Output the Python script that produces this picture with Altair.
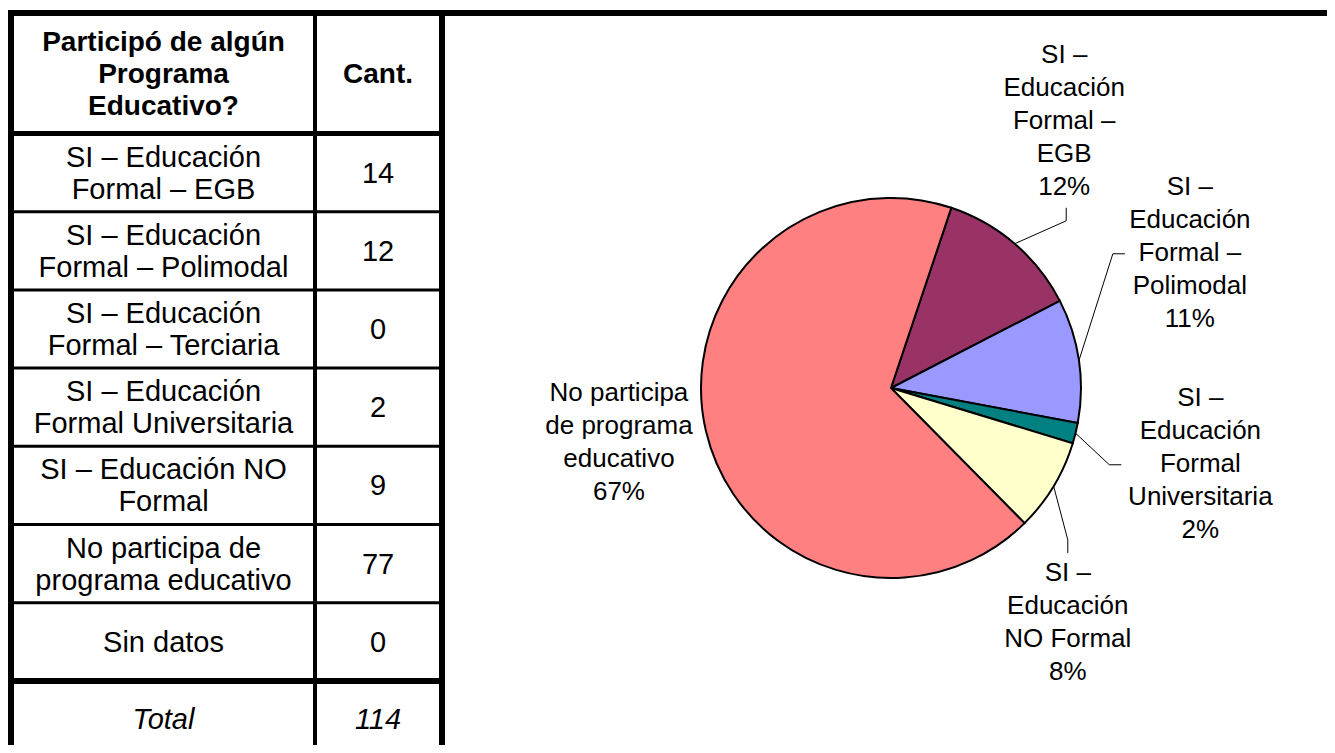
import math
import altair as alt
import pandas as pd

# ---------------- data ----------------
categorias = [
    "SI – Educación Formal – EGB",
    "SI – Educación Formal – Polimodal",
    "SI – Educación Formal – Terciaria",
    "SI – Educación Formal Universitaria",
    "SI – Educación NO Formal",
    "No participa de programa educativo",
    "Sin datos",
]
cantidades = [14, 12, 0, 2, 9, 77, 0]
total_label = "Total"
total_valor = 114

etiquetas_tabla = [
    "SI – Educación\nFormal – EGB",
    "SI – Educación\nFormal – Polimodal",
    "SI – Educación\nFormal – Terciaria",
    "SI – Educación\nFormal Universitaria",
    "SI – Educación NO\nFormal",
    "No participa de\nprograma educativo",
    "Sin datos",
]
encabezados = ["Participó de algún\nPrograma\nEducativo?", "Cant."]

etiquetas_torta = [
    "SI –\nEducación\nFormal –\nEGB",
    "SI –\nEducación\nFormal –\nPolimodal",
    "SI –\nEducación\nFormal –\nTerciaria",
    "SI –\nEducación\nFormal\nUniversitaria",
    "SI –\nEducación\nNO Formal",
    "No participa\nde programa\neducativo",
    "Sin datos",
]
porcentajes = ["12%", "11%", "0%", "2%", "8%", "67%", "0%"]

colores = ["#993366", "#9999FF", "#CCFFFF", "#008080", "#FFFFCC", "#FF8080", "#CCCCFF"]

# ---------------- layout (styling only) ----------------
W, H = 1319, 737
FONT = "Liberation Sans"

# table geometry (chart pixels)
TOP_Y = 5
FRAME_X = 2.5
DIV_X = 307
RIGHT_X = 434
HEADER_BOTTOM = 125.5
ROW_H = 78.2
C1, C2 = 155.5, 370
LH_TAB = 32

# pie geometry
PIE_CX, PIE_CY, PIE_R = 883, 380, 190
START = math.radians(18.5)
LH_PIE = 33
# label placement: (radius, angular shift in degrees, leader side, half width)
label_layout = {
    "SI – Educación Formal – EGB": (318, -7.6, "bottom", 0),
    "SI – Educación Formal – Polimodal": (328, -16.0, "left", 60),
    "SI – Educación Formal Universitaria": (318.5, 0.0, "left", 74),
    "SI – Educación NO Formal": (294, 21.9, "top", 0),
    "No participa de programa educativo": (277.5, 1.7, None, 0),
}


def first_line_y(text, cy, lh):
    """y of the first line so that a multi-line block is centred on cy."""
    n = text.count("\n") + 1
    return cy - (n - 1) * lh / 2


# ---------------- table ----------------
hl_rows = []
n_rows = len(categorias)
for k in range(n_rows + 1):
    w = 5 if k == 0 else (6 if k == n_rows else 3)
    hl_rows.append({"x": 0, "x2": RIGHT_X + 3, "y": HEADER_BOTTOM + k * ROW_H, "w": w})
hl_rows.append({"x": 0, "x2": W, "y": TOP_Y, "w": 6})
hlines = pd.DataFrame(hl_rows)

vlines = pd.DataFrame([
    {"x": FRAME_X, "y": 2, "y2": H, "w": 7},
    {"x": DIV_X, "y": TOP_Y, "y2": H, "w": 4},
    {"x": RIGHT_X, "y": TOP_Y, "y2": H, "w": 6},
])

hrule = alt.Chart(hlines).mark_rule(color="black").encode(
    x=alt.X("x:Q", scale=None, axis=None),
    x2="x2:Q",
    y=alt.Y("y:Q", scale=None, axis=None),
    strokeWidth=alt.StrokeWidth("w:Q", scale=None, legend=None),
)
vrule = alt.Chart(vlines).mark_rule(color="black").encode(
    x=alt.X("x:Q", scale=None, axis=None),
    y=alt.Y("y:Q", scale=None, axis=None),
    y2="y2:Q",
    strokeWidth=alt.StrokeWidth("w:Q", scale=None, legend=None),
)

header_y = (TOP_Y + HEADER_BOTTOM) / 2 + 2
header_df = pd.DataFrame({
    "t": encabezados,
    "cx": [C1, C2],
    "cy": [first_line_y(t, header_y, LH_TAB) for t in encabezados],
})

body_rows = []
for i, (lab, v) in enumerate(zip(etiquetas_tabla, cantidades)):
    cy = HEADER_BOTTOM + (i + 0.5) * ROW_H + 1
    body_rows.append({"t": lab, "cx": C1, "cy": first_line_y(lab, cy, LH_TAB)})
    body_rows.append({"t": str(v), "cx": C2, "cy": cy})
body_df = pd.DataFrame(body_rows)

cy_tot = HEADER_BOTTOM + (n_rows + 0.5) * ROW_H
total_df = pd.DataFrame({"t": [total_label, str(total_valor)], "cx": [C1, C2], "cy": [cy_tot, cy_tot]})


def table_text(df, weight="normal", style="normal", size=29):
    return alt.Chart(df).mark_text(
        font=FONT, fontSize=size, fontWeight=weight, fontStyle=style,
        lineBreak="\n", lineHeight=LH_TAB, align="center", baseline="middle", color="black",
    ).encode(
        x=alt.X("cx:Q", scale=None, axis=None),
        y=alt.Y("cy:Q", scale=None, axis=None),
        text="t:N",
    )


header_txt = table_text(header_df, weight="bold", size=28)
body_txt = table_text(body_df)
total_txt = table_text(total_df, style="italic")

# ---------------- pie ----------------
pie_df = pd.DataFrame({
    "cat": categorias,
    "cant": cantidades,
    "idx": list(range(len(categorias))),
    "etq": [e + "\n" + p for e, p in zip(etiquetas_torta, porcentajes)],
})
pie_df = pie_df[pie_df["cant"] > 0].reset_index(drop=True)
suma = pie_df["cant"].sum()

pie = alt.Chart(pie_df).mark_arc(outerRadius=PIE_R, stroke="black", strokeWidth=2).encode(
    theta=alt.Theta("cant:Q", stack=True, scale=alt.Scale(range=[START, START + 2 * math.pi])),
    color=alt.Color("cat:N", scale=alt.Scale(domain=categorias, range=colores), legend=None),
    order=alt.Order("idx:Q"),
    x=alt.value(PIE_CX),
    y=alt.value(PIE_CY),
)

# labels and leader lines computed from the slice mid angles
lab_rows, lead_rows = [], []
cum = 0
for _, r in pie_df.iterrows():
    mid = START + 2 * math.pi * (cum + r["cant"] / 2) / suma
    cum += r["cant"]
    rad, shift, side, hw = label_layout[r["cat"]]
    a = mid + math.radians(shift)
    lx = PIE_CX + rad * math.sin(a)
    ly = PIE_CY - rad * math.cos(a)
    lab_rows.append({"t": r["etq"], "cx": lx, "cy": first_line_y(r["etq"], ly, LH_PIE)})
    if side is None:
        continue
    n = r["etq"].count("\n") + 1
    hh = n * LH_PIE / 2
    sx = PIE_CX + PIE_R * math.sin(mid)
    sy = PIE_CY - PIE_R * math.cos(mid)
    if side == "bottom":
        pts = [(sx, sy), (lx + 2, ly + hh + 17), (lx + 2, ly + hh + 4)]
    elif side == "top":
        pts = [(sx, sy), (lx, ly - hh - 17), (lx, ly - hh - 4)]
    else:
        pts = [(sx, sy), (lx - hw - 17, ly + 1), (lx - hw - 5, ly + 1)]
    for j, (px, py) in enumerate(pts):
        lead_rows.append({"cat": r["cat"], "o": j, "px": px, "py": py})

lab_df = pd.DataFrame(lab_rows)
lead_df = pd.DataFrame(lead_rows)

leaders = alt.Chart(lead_df).mark_line(color="black", strokeWidth=1).encode(
    x=alt.X("px:Q", scale=None, axis=None),
    y=alt.Y("py:Q", scale=None, axis=None),
    detail="cat:N",
    order="o:Q",
)

pie_labels = alt.Chart(lab_df).mark_text(
    font=FONT, fontSize=26, lineBreak="\n", lineHeight=LH_PIE,
    align="center", baseline="middle", color="black",
).encode(
    x=alt.X("cx:Q", scale=None, axis=None),
    y=alt.Y("cy:Q", scale=None, axis=None),
    text="t:N",
)

chart = alt.layer(
    pie, leaders, pie_labels, hrule, vrule, header_txt, body_txt, total_txt
).properties(
    width=W, height=H, autosize=alt.AutoSizeParams(type="none"), padding=0,
    background="white",
).configure_view(stroke=None)

chart.save("out.html", embed_options={"renderer": "svg", "actions": False})
